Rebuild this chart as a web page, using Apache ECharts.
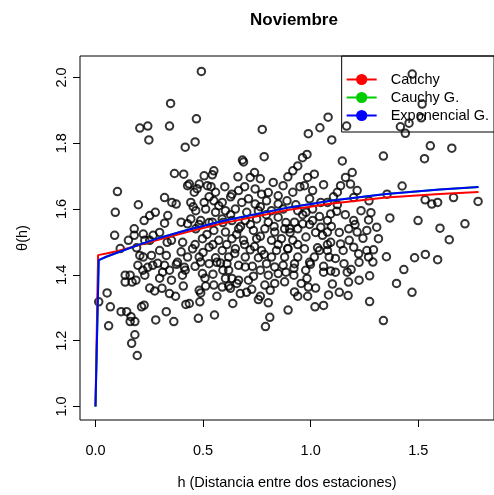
<!DOCTYPE html>
<html>
<head>
<meta charset="utf-8">
<script src="https://cdn.jsdelivr.net/npm/echarts@6/dist/echarts.min.js"></script>
<style>html,body{margin:0;padding:0;background:#fff}#c{width:494px;height:495px}</style>
</head>
<body>
<div id="c"></div>
<script>
var titleText = 'Noviembre';
var xName = 'h (Distancia entre dos estaciones)';
var yName = 'θ(h)';
var xTicks = [0, 0.5, 1.0, 1.5];
var yTicks = [1.0, 1.2, 1.4, 1.6, 1.8, 2.0];
var seriesNames = ['Cauchy', 'Cauchy G.', 'Exponencial G.'];

// observed points [h, theta]
var obsTop = [
 [0.349,1.921],[0.206,1.846],[0.243,1.852],[0.344,1.852],[0.248,1.810],[0.417,1.788],
 [0.492,2.018],[0.469,1.874],[0.775,1.842],[0.463,1.804],[0.683,1.749],[0.784,1.759],
 [1.081,1.879],[1.043,1.847],[0.989,1.829],[1.167,1.852],[1.098,1.810],[0.983,1.766],[0.962,1.756],[1.147,1.746],[1.338,1.761],
 [1.472,2.010],[1.518,1.919],[1.514,1.877],[1.457,1.861],[1.417,1.850],[1.440,1.830],[1.556,1.792],[1.656,1.785],[1.529,1.753]
];
var obsRight = [
 [1.425,1.670],[1.355,1.645],[1.532,1.628],[1.563,1.615],[1.590,1.620],[1.664,1.635],[1.778,1.623],[1.368,1.573],[1.499,1.565],
 [1.601,1.542],[1.717,1.555],[1.644,1.507],[1.533,1.462],[1.483,1.452],[1.590,1.446],[1.352,1.455],
 [1.433,1.416],[1.399,1.374],[1.471,1.347]
];
var obsLowMid = [
 [0.925,1.434],[0.999,1.432],[1.060,1.426],[1.093,1.412],[1.155,1.434],[1.188,1.416],[1.289,1.439],[0.922,1.399],[0.983,1.389],
 [0.956,1.374],[0.989,1.363],[0.925,1.348],[1.101,1.372],[1.176,1.378],[1.274,1.397],[1.083,1.339],[1.174,1.337],[1.020,1.303],
 [1.060,1.307],[1.274,1.319],[0.895,1.293],[1.338,1.261],
 [0.489,1.345],[0.485,1.318],[0.478,1.268],[0.553,1.278],[0.638,1.313],[0.810,1.271],[0.790,1.243],[0.757,1.325],
 [0.803,1.315],[0.726,1.356],[0.673,1.343],[0.627,1.359],[0.734,1.396],[0.436,1.313],[0.512,1.366],[0.550,1.369],[0.589,1.363],
 [0.619,1.366],[0.657,1.374],[0.787,1.369],[0.833,1.374],[0.879,1.379],[0.497,1.404],[0.546,1.402],[0.604,1.389],[0.634,1.389],
 [0.665,1.384],[0.803,1.399],[0.849,1.404],[0.489,1.439],[0.528,1.434],[0.581,1.436],[0.611,1.434],[0.665,1.429],[0.696,1.424],
 [0.795,1.434],[0.833,1.424],[0.872,1.429]
];
var obsLeft = [
 [0.054,1.345],[0.015,1.318],[0.069,1.303],[0.061,1.245],[0.119,1.288],[0.145,1.288],[0.165,1.273],[0.183,1.258],[0.161,1.258],
 [0.183,1.218],[0.168,1.192],[0.194,1.155],[0.214,1.303],[0.226,1.308],[0.275,1.351],[0.309,1.359],[0.344,1.343],[0.329,1.288],
 [0.280,1.263],[0.364,1.258],[0.420,1.310],
 [0.138,1.399],[0.161,1.399],[0.138,1.378],[0.170,1.378],[0.188,1.384],[0.197,1.429],[0.220,1.414],[0.243,1.423],[0.266,1.429],
 [0.289,1.435],[0.321,1.429],[0.312,1.408],[0.344,1.414],[0.376,1.432],[0.404,1.399],[0.413,1.423],[0.229,1.399],
 [0.367,1.708],[0.410,1.706],[0.428,1.671],[0.102,1.653],[0.199,1.613],[0.092,1.590],[0.321,1.635],[0.355,1.620],[0.375,1.615],
 [0.278,1.590],[0.252,1.580],[0.226,1.565],[0.336,1.580],[0.321,1.557],[0.398,1.560],[0.428,1.555],[0.089,1.520],[0.180,1.540],
 [0.153,1.505],[0.180,1.520],[0.222,1.524],[0.268,1.520],[0.229,1.505],[0.191,1.482],[0.333,1.499],[0.405,1.499],[0.222,1.454],
 [0.260,1.459],[0.298,1.474],[0.329,1.459],[0.398,1.470],[0.428,1.454],
 [0.381,1.438],[0.417,1.414],[0.353,1.384],[0.408,1.366],[0.298,1.390],[0.252,1.360],[0.372,1.335]
];
var obsCenter = [
 [0.688,1.743],[0.505,1.701],[0.543,1.704],[0.550,1.716],[0.662,1.698],[0.719,1.696],[0.739,1.711],[0.826,1.681],[0.872,1.671],
 [0.436,1.676],[0.482,1.676],[0.520,1.671],[0.459,1.651],[0.558,1.651],[0.634,1.645],[0.742,1.661],[0.772,1.645],[0.443,1.620],
 [0.505,1.620],[0.550,1.625],[0.589,1.620],[0.680,1.620],[0.742,1.615],[0.795,1.625],[0.849,1.615],[0.466,1.595],[0.512,1.600],
 [0.558,1.590],[0.604,1.595],[0.650,1.600],[0.703,1.590],[0.757,1.595],[0.818,1.595],[0.872,1.600],[0.443,1.570],[0.489,1.565],
 [0.543,1.560],[0.589,1.570],[0.634,1.565],[0.696,1.565],[0.749,1.570],[0.803,1.560],[0.849,1.575],[0.466,1.540],[0.550,1.535],
 [0.604,1.530],[0.665,1.540],[0.734,1.535],[0.787,1.540],[0.833,1.530],[0.879,1.540],[0.497,1.510],[0.573,1.505],[0.634,1.510],
 [0.688,1.505],[0.749,1.510],[0.818,1.505],[0.864,1.510],[0.451,1.479],[0.528,1.484],[0.589,1.474],[0.650,1.479],[0.719,1.476],
 [0.772,1.474],[0.841,1.474],[0.482,1.454],[0.558,1.452],[0.619,1.454],[0.696,1.454],[0.757,1.452],[0.818,1.454],[0.879,1.454],
 [0.472,1.662],[0.601,1.668],[0.665,1.656],[0.803,1.650],[0.849,1.640],[0.528,1.637],[0.711,1.631],[0.890,1.625],[0.454,1.607],
 [0.573,1.610],[0.766,1.607],[0.628,1.583],[0.794,1.583],[0.482,1.553],[0.592,1.559],[0.720,1.553],[0.885,1.559],[0.518,1.523],
 [0.656,1.523],[0.766,1.517],[0.463,1.492],[0.610,1.492],[0.739,1.486],[0.849,1.492],[0.500,1.468],[0.647,1.465],[0.784,1.462],
 [0.564,1.438],[0.463,1.426],[0.619,1.414],[0.766,1.414],[0.885,1.408],[0.509,1.390],[0.711,1.384],[0.812,1.353],[0.702,1.347],
 [0.564,1.335]
];
var obsCenterRight = [
 [0.940,1.731],[0.917,1.716],[0.986,1.696],[1.017,1.706],[1.162,1.696],[1.193,1.711],[1.139,1.671],[1.185,1.676],[0.971,1.671],
 [1.009,1.656],[0.917,1.651],[1.124,1.651],[1.047,1.620],[1.078,1.620],[1.200,1.635],[0.940,1.595],[0.978,1.590],[1.009,1.600],
 [1.093,1.585],[1.121,1.593],[0.925,1.560],[0.963,1.555],[1.009,1.565],[1.078,1.565],[1.200,1.565],[1.269,1.567],[0.902,1.540],
 [0.940,1.540],[1.047,1.545],[1.078,1.530],[1.177,1.540],[1.216,1.530],[1.261,1.535],[1.307,1.545],[0.917,1.505],[0.978,1.515],
 [1.055,1.520],[1.093,1.499],[1.315,1.510],[0.894,1.479],[0.971,1.479],[1.032,1.482],[1.078,1.474],[1.139,1.494],[1.200,1.484],
 [1.292,1.476],[0.940,1.454],[1.017,1.454],[1.086,1.454],[1.223,1.464],[1.269,1.454],
 [0.931,1.613],[0.995,1.631],[1.124,1.613],[1.234,1.595],[0.963,1.583],[1.041,1.577],[1.161,1.583],[1.280,1.589],[0.904,1.529],
 [1.023,1.529],[1.133,1.529],[1.243,1.511],[0.940,1.492],[1.078,1.492],[1.179,1.505],[0.995,1.438],[1.115,1.450],[1.225,1.438],
 [0.922,1.420],[1.060,1.408],[1.170,1.408],[1.023,1.360],[1.133,1.347],[0.940,1.335]
];
var obsDense = [
 [0.537,1.668],[0.628,1.637],[0.693,1.668],[0.766,1.692],[0.894,1.698],[0.950,1.668],[1.060,1.674],[1.106,1.637],[1.216,1.656],
 [1.271,1.625],[0.528,1.559],[0.674,1.547],[0.830,1.547],[0.995,1.553],[1.096,1.547],[1.206,1.553],[0.546,1.492],[0.693,1.492],
 [0.894,1.480],[1.041,1.474],[1.151,1.474],[1.261,1.474],[0.592,1.414],[0.729,1.426],[0.977,1.414],[1.115,1.408],[1.225,1.384],
 [0.482,1.353],[0.766,1.335],[0.986,1.335],[0.252,1.505],[0.298,1.529],[0.206,1.459],[0.115,1.480],[0.353,1.505]
];

// fitted curves [h, theta]
var cauchyCurve = [[0,1.0],[0.012,1.460],[0.05,1.465],[0.1,1.472],[0.2,1.490],[0.3,1.508],[0.43,1.531],[0.6,1.558],[0.9,1.598],[1.1,1.617],[1.35,1.635],[1.6,1.646],[1.78,1.652]];
var cauchyGCurve = [[0,1.0],[0.015,1.445],[0.05,1.455],[0.1,1.467],[0.2,1.491],[0.3,1.513],[0.43,1.537],[0.6,1.565],[0.9,1.605],[1.1,1.626],[1.35,1.646],[1.6,1.659],[1.78,1.667]];
var expGCurve = [[0,1.0],[0.015,1.445],[0.05,1.455],[0.1,1.467],[0.2,1.491],[0.3,1.513],[0.43,1.537],[0.6,1.565],[0.9,1.605],[1.1,1.626],[1.35,1.646],[1.6,1.659],[1.78,1.667]];

var allObs = [].concat(obsTop, obsRight, obsLowMid, obsLeft, obsCenter, obsCenterRight, obsDense);
var FONT = 'Liberation Sans, Arial, Helvetica, sans-serif';
var FS = 14.5;
var colors = ['#FF0000', '#00CD00', '#0000FF'];

var chart = echarts.init(document.getElementById('c'), null, {renderer: 'canvas'});
function lineSeries(name, data, color, z) {
  return {
    name: name, type: 'line', data: data, symbol: 'circle', symbolSize: 9, showSymbol: false,
    lineStyle: {color: color, width: 2}, itemStyle: {color: color}, z: z, silent: true, clip: true
  };
}
chart.setOption({
  animation: false,
  backgroundColor: '#fff',
  title: {text: titleText, left: 289, textAlign: 'center', top: 7,
    textStyle: {fontFamily: FONT, fontSize: 17, fontWeight: 'bold', color: '#000'}},
  grid: {left: 80, right: -5, top: 56, bottom: 75, show: true, borderColor: '#000', borderWidth: 1, backgroundColor: 'transparent'},
  legend: {
    data: seriesNames, orient: 'vertical', right: -5, top: 56,
    backgroundColor: 'transparent', borderColor: '#000', borderWidth: 1, borderRadius: 0,
    padding: [16, 10, 9, 4], itemGap: 3, itemWidth: 30, itemHeight: 14,
    textStyle: {fontFamily: FONT, fontSize: FS, color: '#000', padding: [0, 0, 0, 9]}
  },
  xAxis: {
    type: 'value', min: -0.072, max: 1.852,
    name: xName, nameLocation: 'middle', nameGap: 55,
    nameTextStyle: {fontFamily: FONT, fontSize: FS, color: '#000'},
    axisLine: {show: false, onZero: false}, splitLine: {show: false},
    axisTick: {show: true, inside: false, length: 7, customValues: xTicks, lineStyle: {color: '#000'}},
    axisLabel: {customValues: xTicks, margin: 23, fontFamily: FONT, fontSize: FS, color: '#000',
      formatter: function (v) { return v.toFixed(1); }}
  },
  yAxis: {
    type: 'value', min: 0.959, max: 2.065,
    name: yName, nameLocation: 'middle', nameGap: 50, nameRotate: 90,
    nameTextStyle: {fontFamily: FONT, fontSize: FS, color: '#000'},
    axisLine: {show: false, onZero: false}, splitLine: {show: false},
    axisTick: {show: true, inside: false, length: 7, customValues: yTicks, lineStyle: {color: '#000'}},
    axisLabel: {customValues: yTicks, rotate: 90, margin: 11, fontFamily: FONT, fontSize: FS, color: '#000',
      formatter: function (v) { return v.toFixed(1); }}
  },
  series: [
    {type: 'scatter', name: 'obs', data: allObs, symbol: 'circle', symbolSize: 7.5, z: 2, silent: true,
      itemStyle: {color: 'rgba(0,0,0,0)', borderColor: '#000', borderWidth: 2}},
    lineSeries(seriesNames[0], cauchyCurve, colors[0], 3),
    lineSeries(seriesNames[1], cauchyGCurve, colors[1], 4),
    lineSeries(seriesNames[2], expGCurve, colors[2], 5)
  ]
});
</script>
</body>
</html>
